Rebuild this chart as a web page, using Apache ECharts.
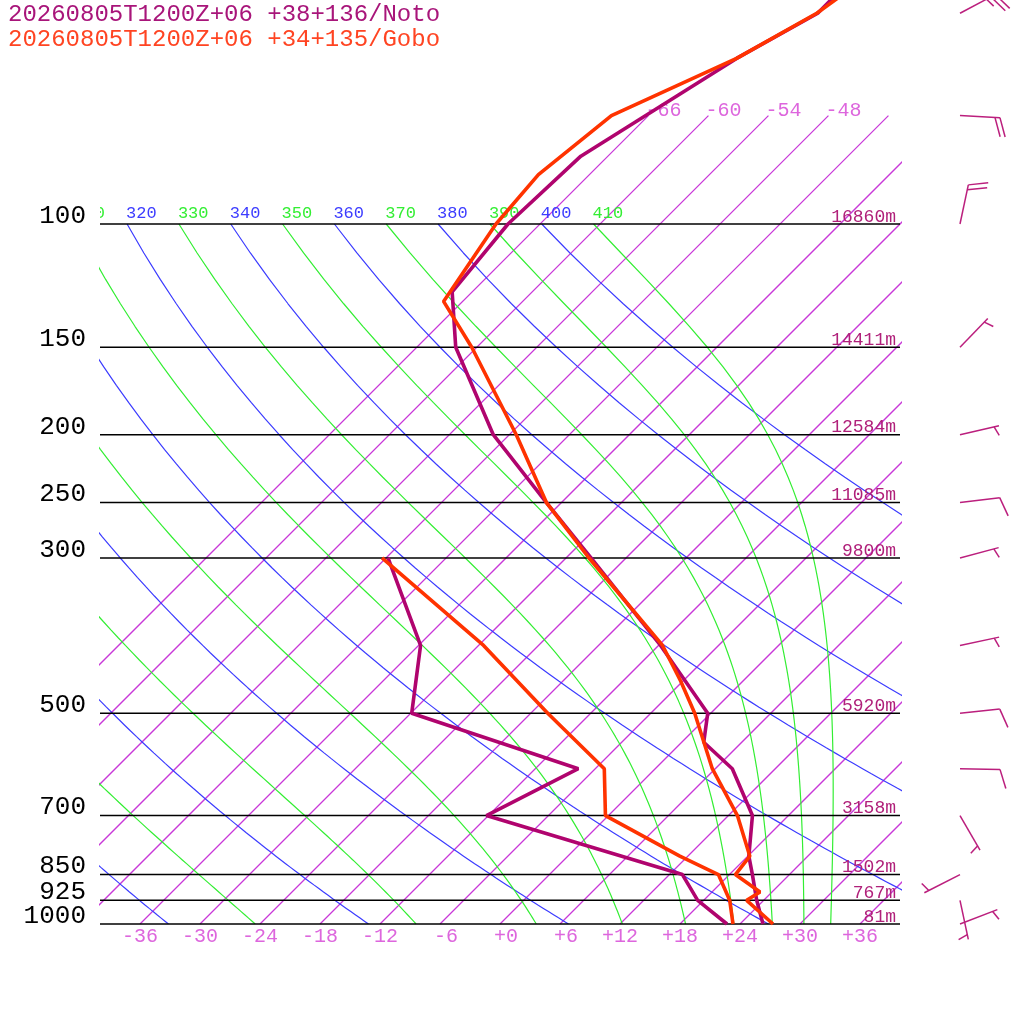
<!DOCTYPE html>
<html>
<head>
<meta charset="utf-8">
<title>Skew-T Noto / Gobo</title>
<script src="https://cdn.jsdelivr.net/npm/echarts@6.0.0/dist/echarts.min.js"></script>
<style>
html, body { margin: 0; padding: 0; background: #fff; }
#chart { width: 1024px; height: 1024px; }
</style>
</head>
<body>
<div id="chart"></div>
<script>
// ---- sounding values ----
var notoP   = [1000, 925, 850, 800, 700, 600, 550, 500, 400, 300, 250, 200, 150, 125, 100, 80, 58, 50, 40];
var notoT   = [26.3, 23.3, 20.3, 18.1, 14.4, 7.7, 2.2, -0.3, -11.8, -27.5, -37.5, -49.6, -62.1, -68.0, -69.2, -68.7, -62.9, -59.3, -59.4];
var notoTdP = [1000, 925, 850, 700, 600, 500, 400, 300];
var notoTd  = [22.7, 17.4, 13.3, -12.2, -7.7, -29.9, -35.8, -47.8];

var goboP   = [1000, 925, 900, 850, 800, 700, 600, 500, 450, 400, 300, 250, 200, 150, 129, 100, 85, 70, 58, 50, 40];
var goboT   = [27.3, 22.3, 22.8, 18.6, 18.2, 12.9, 5.7, -1.6, -6.2, -11.6, -27.7, -37.5, -47.3, -60.5, -67.9, -70.4, -71.1, -69.7, -62.9, -59.4, -56.8];
var goboTdP = [1000, 925, 850, 800, 700, 600, 500, 400, 300];
var goboTd  = [23.3, 20.6, 16.9, 11.2, -0.3, -5.1, -16.3, -29.5, -48.4];

// wind barbs (Noto): direction in degrees, speed in knots
var windP   = [1000, 925, 850, 700, 600, 500, 400, 300, 250, 200, 150, 100, 70, 50];
var windDir = [69, 168, 243, 150, 91, 84, 78, 75, 83, 77, 44, 12, 93, 62];
var windSpd = [5, 5, 5, 5, 10, 10, 5, 5, 10, 5, 5, 20, 20, 25];

// pressure lines and their heights
var levelP      = [1000, 925, 850, 700, 500, 300, 250, 200, 150, 100];
var levelHeight = [81, 767, 1502, 3158, 5920, 9800, 11085, 12584, 14411, 16860];

// background line families
var isotherms  = [-66, -60, -54, -48, -42, -36, -30, -24, -18, -12, -6, 0, 6, 12, 18, 24, 30, 36];
var isoLabels  = [-66, -60, -54, -48];
var tempTicks  = [-36, -30, -24, -18, -12, -6, 0, 6, 12, 18, 24, 30, 36];
var dryThetas  = [240, 260, 280, 300, 320, 340, 360, 380, 400];
var moistThetas = [250, 270, 290, 310, 330, 350, 370, 390, 410];

var titles = ['20260805T1200Z+06 +38+136/Noto', '20260805T1200Z+06 +34+135/Gobo'];

// ---- look ----
var FONT = '"Liberation Mono", "DejaVu Sans Mono", monospace';
var NOTO = '#b0046e', GOBO = '#ff3300';
var ISO_C = '#c838d8', ISO_TXT = '#dd66dd', DRY_C = '#3c3cff', MOIST_C = '#33ee33';
var HGT_C = '#b0207a', BARB_C = '#bb1f7d';

var T_MIN = -40, T_MAX = 40, P_BOT = 1000;
var P_TOP = 1000 / Math.pow(10, 924 / 700);
var SKEW = 70;        // deg C shift per decade of pressure
var ISO_TOP = 70;     // isotherms stop here
var KAPPA = 287.04 / 1005.7;

function skewX(t, p) { return t + SKEW * Math.log10(P_BOT / p); }
function profile(ps, ts) {
  return ps.map(function (p, i) { return [skewX(ts[i], p), p]; });
}

function dryLine(theta) {
  var pts = [];
  for (var p = 1000; p >= 100; p -= 10) {
    pts.push([skewX(theta * Math.pow(p / 1000, KAPPA) - 273.15, p), p]);
  }
  return pts;
}

// pseudo-adiabat, integrated down from 100 hPa
var Rd = 287.04, Cp = 1005.7, Lv = 2.501e6, EPS = 0.622;
function satVap(tk) { var t = tk - 273.15; return 6.112 * Math.exp(17.67 * t / (t + 243.5)); }
function moistRate(tk, p) {
  var e = satVap(tk), r = EPS * e / (p - e);
  return (Rd * tk + Lv * r) / (p * (Cp + Lv * Lv * r * EPS / (Rd * tk * tk)));
}
function moistLine(theta) {
  var p = 100, tk = theta * Math.pow(p / 1000, KAPPA), dp = 2;
  var pts = [[skewX(tk - 273.15, p), p]];
  for (var n = 1; p < 1000; n++) {
    var k1 = moistRate(tk, p);
    var k2 = moistRate(tk + k1 * dp / 2, p + dp / 2);
    var k3 = moistRate(tk + k2 * dp / 2, p + dp / 2);
    var k4 = moistRate(tk + k3 * dp, p + dp);
    tk += dp * (k1 + 2 * k2 + 2 * k3 + k4) / 6;
    p += dp;
    if (n % 5 === 0) pts.push([skewX(tk - 273.15, p), p]);
  }
  return pts;
}

function bgLine(data, color, width) {
  return {
    type: 'line', data: data, showSymbol: false, silent: true,
    color: color, itemStyle: { color: color },
    lineStyle: { color: color, width: width || 1 }, z: 1, animation: false
  };
}
function profLine(data, color) {
  return {
    type: 'line', data: data, showSymbol: false, silent: true,
    color: color, itemStyle: { color: color },
    lineStyle: { color: color, width: 3.6 }, z: 5, animation: false
  };
}

var series = [];

// isotherms: straight on a log-p axis, from 1000 hPa up to ISO_TOP
isotherms.forEach(function (t) {
  series.push(bgLine([[skewX(t, 1000), 1000], [skewX(t, ISO_TOP), ISO_TOP]], ISO_C, 1.25));
});
dryThetas.forEach(function (th) { series.push(bgLine(dryLine(th), DRY_C, 1.2)); });
moistThetas.forEach(function (th) { series.push(bgLine(moistLine(th), MOIST_C, 1.2)); });

// theta labels along 100 hPa
var thetaLabels = dryThetas.concat(moistThetas).filter(function (th) { return th >= 310; });
series.push({
  type: 'custom', silent: true, clip: true, z: 3, animation: false,
  data: thetaLabels.map(function (th) { return [skewX(th * Math.pow(0.1, KAPPA) - 273.15, 100), 100]; }),
  renderItem: function (params, api) {
    var th = thetaLabels[params.dataIndex];
    var c = api.coord([api.value(0), api.value(1)]);
    return {
      type: 'text', x: c[0] - 1, y: c[1] - 11,
      style: { text: String(th), font: '17px ' + FONT, fill: th % 20 === 0 ? DRY_C : MOIST_C,
               align: 'left', verticalAlign: 'middle', textAlign: 'left', textVerticalAlign: 'middle' }
    };
  }
});

// isotherm labels at the top end
series.push({
  type: 'custom', silent: true, z: 3, animation: false,
  data: isoLabels.map(function (t) { return [skewX(t, ISO_TOP), ISO_TOP]; }),
  renderItem: function (params, api) {
    var c = api.coord([api.value(0), api.value(1)]);
    return {
      type: 'text', x: c[0] - 3, y: c[1] - 5,
      style: { text: String(isoLabels[params.dataIndex]), font: '20px ' + FONT, fill: ISO_TXT,
               align: 'left', verticalAlign: 'middle', textAlign: 'left', textVerticalAlign: 'middle' }
    };
  }
});

// pressure lines, pressure labels, heights
series.push({
  type: 'custom', silent: true, z: 4, animation: false,
  data: levelP.map(function (p) { return [T_MIN, p]; }),
  renderItem: function (params, api) {
    var i = params.dataIndex;
    var a = api.coord([T_MIN, levelP[i]]), b = api.coord([T_MAX, levelP[i]]);
    return {
      type: 'group', children: [
        { type: 'line', shape: { x1: a[0], y1: a[1], x2: b[0], y2: b[1] },
          style: { stroke: '#000', lineWidth: 1.5 } },
        { type: 'text', x: a[0] - 14, y: a[1] - 8,
          style: { text: String(levelP[i]), font: '26px ' + FONT, fill: '#000',
                   align: 'right', verticalAlign: 'middle', textAlign: 'right', textVerticalAlign: 'middle' } },
        { type: 'text', x: b[0] - 4, y: b[1] - 7,
          style: { text: levelHeight[i] + 'm', font: '18px ' + FONT, fill: HGT_C,
                   align: 'right', verticalAlign: 'middle', textAlign: 'right', textVerticalAlign: 'middle' } }
      ]
    };
  }
});

series.push(profLine(profile(notoTdP, notoTd), NOTO));
series.push(profLine(profile(notoP, notoT), NOTO));
series.push(profLine(profile(goboTdP, goboTd), GOBO));
series.push(profLine(profile(goboP, goboT), GOBO));

// wind barbs to the right of the diagram
var BARB_ANGLE = 72 * Math.PI / 180;
series.push({
  type: 'custom', silent: true, z: 6, animation: false,
  data: windP.map(function (p) { return [T_MAX, p]; }),
  renderItem: function (params, api) {
    var i = params.dataIndex;
    var base = api.coord([T_MAX, windP[i]]);
    var ax = base[0] + 60, ay = base[1];
    var a = windDir[i] * Math.PI / 180;
    var dx = Math.sin(a), dy = -Math.cos(a);
    var bx = dx * Math.cos(BARB_ANGLE) - dy * Math.sin(BARB_ANGLE);
    var by = dx * Math.sin(BARB_ANGLE) + dy * Math.cos(BARB_ANGLE);
    var tx = ax + 40 * dx, ty = ay + 40 * dy;
    var st = { stroke: BARB_C, lineWidth: 1.5 };
    var kids = [{ type: 'line', shape: { x1: ax, y1: ay, x2: tx, y2: ty }, style: st }];
    var spd = windSpd[i];
    var n10 = Math.floor(spd / 10), n5 = Math.round((spd - n10 * 10) / 5);
    var off = n10 === 0 ? 5 : 0;
    function barb(len) {
      var sx = tx - off * dx, sy = ty - off * dy;
      kids.push({ type: 'line', shape: { x1: sx, y1: sy, x2: sx + len * bx, y2: sy + len * by }, style: st });
      off += 5;
    }
    for (var k = 0; k < n10; k++) barb(20);
    if (n5) barb(10);
    return { type: 'group', children: kids };
  }
});

var chart = echarts.init(document.getElementById('chart'));
chart.setOption({
  animation: false,
  backgroundColor: '#fff',
  grid: { left: 100, right: 124, top: 0, bottom: 100, containLabel: false },
  xAxis: {
    type: 'value', min: T_MIN, max: T_MAX,
    axisLine: { show: false }, axisTick: { show: false }, splitLine: { show: false },
    axisLabel: {
      customValues: tempTicks, margin: 13, verticalAlign: 'middle',
      color: ISO_TXT, fontFamily: FONT, fontSize: 20,
      formatter: function (v) {
        var s = (v < 0 ? '-' : '+') + Math.abs(v);
        while (s.length < 3) s = ' ' + s;
        return s;
      }
    }
  },
  yAxis: {
    type: 'log', min: P_TOP, max: P_BOT, inverse: true, show: false
  },
  graphic: titles.map(function (t, i) {
    return {
      type: 'text', x: 8, y: 15 + 25 * i,
      style: { text: t, font: '24px ' + FONT, fill: i === 0 ? '#a8157a' : '#ff4422',
               verticalAlign: 'middle', textVerticalAlign: 'middle' }
    };
  }),
  series: series
});
</script>
</body>
</html>
